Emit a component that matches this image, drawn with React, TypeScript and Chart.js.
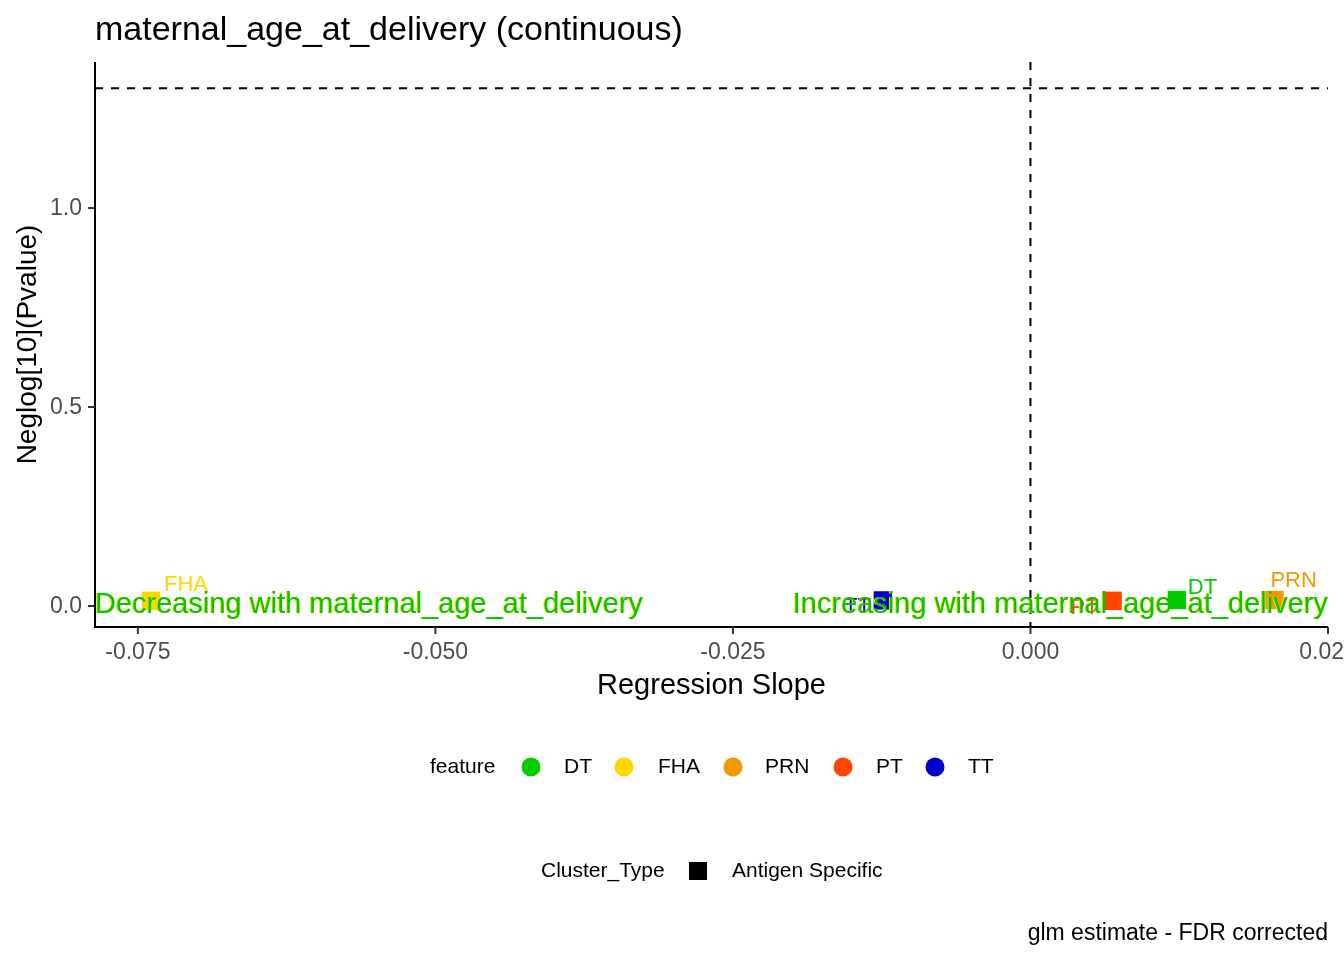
import { useEffect, useRef } from "react"
import { Chart, registerables } from "chart.js"

Chart.register(...registerables)

// data
const features = ["DT", "FHA", "PRN", "PT", "TT"]
const featureColors = ["#00CD00", "#FFD700", "#EE9A00", "#FF4500", "#0000CD"]
const slopes = [0.0123, -0.0739, 0.0205, 0.0069, -0.0124]
const negLogP = [0.015, 0.013, 0.015, 0.013, 0.014]

const xTicks = [-0.075, -0.05, -0.025, 0, 0.025]
const xTickLabels = ["-0.075", "-0.050", "-0.025", "0.000", "0.025"]
const yTicks = [0, 0.5, 1.0]
const yTickLabels = ["0.0", "0.5", "1.0"]

const pThreshold = -Math.log10(0.05)
const clusterTypes = ["Antigen Specific"]

const FONT = "'Liberation Sans', Arial, sans-serif"

// label offsets (px) from each point, like the repelled labels
const labelOffsets: Record<string, [number, number, CanvasTextAlign]> = {
  DT: [11, -12, "left"],
  FHA: [13, -16, "left"],
  PRN: [-4, -19, "left"],
  PT: [-14, 7, "right"],
  TT: [-12, 7, "right"],
}

export default function App() {
  const chartRef = useRef<HTMLCanvasElement>(null)
  const chartInstance = useRef<Chart | null>(null)

  useEffect(() => {
    document.body.style.margin = "0"
    if (!chartRef.current) return
    if (chartInstance.current) chartInstance.current.destroy()

    const decorations = {
      id: "decorations",
      beforeDatasetsDraw(chart: Chart) {
        const { ctx, chartArea } = chart
        const xs = chart.scales.x
        const ys = chart.scales.y
        ctx.save()
        ctx.strokeStyle = "#000"
        ctx.lineWidth = 2
        ctx.setLineDash([8, 8])
        const hy = ys.getPixelForValue(pThreshold)
        ctx.beginPath()
        ctx.moveTo(chartArea.left, hy)
        ctx.lineTo(chartArea.right, hy)
        ctx.stroke()
        const vx = xs.getPixelForValue(0)
        ctx.beginPath()
        ctx.moveTo(vx, chartArea.top)
        ctx.lineTo(vx, chartArea.bottom)
        ctx.stroke()
        ctx.restore()
      },
      afterDatasetsDraw(chart: Chart) {
        const { ctx, chartArea } = chart
        const xs = chart.scales.x
        const ys = chart.scales.y
        ctx.save()

        // point labels
        ctx.font = `22px ${FONT}`
        ctx.textBaseline = "middle"
        features.forEach((f, i) => {
          const px = xs.getPixelForValue(slopes[i])
          const py = ys.getPixelForValue(negLogP[i])
          const [dx, dy, align] = labelOffsets[f]
          ctx.fillStyle = featureColors[i]
          ctx.textAlign = align
          ctx.fillText(f, px + dx, py + dy)
        })

        // direction annotations
        const ay = ys.getPixelForValue(0) - 1
        ctx.font = `29px ${FONT}`
        const drawAnno = (text: string, x: number, align: CanvasTextAlign) => {
          ctx.textAlign = align
          ctx.fillStyle = "#FFD700"
          ctx.fillText(text, x - 1, ay)
          ctx.fillStyle = "#00C800"
          ctx.fillText(text, x, ay)
        }
        drawAnno("Decreasing with maternal_age_at_delivery", chartArea.left, "left")
        drawAnno("Increasing with maternal_age_at_delivery", chartArea.right, "right")

        // axes
        ctx.strokeStyle = "#000"
        ctx.lineWidth = 2
        ctx.beginPath()
        ctx.moveTo(chartArea.left, chartArea.top)
        ctx.lineTo(chartArea.left, chartArea.bottom)
        ctx.lineTo(chartArea.right, chartArea.bottom)
        ctx.stroke()

        ctx.strokeStyle = "#333"
        ctx.fillStyle = "#4D4D4D"
        ctx.font = `23px ${FONT}`
        ctx.textAlign = "center"
        ctx.textBaseline = "middle"
        xTicks.forEach((t, i) => {
          const x = xs.getPixelForValue(t)
          ctx.beginPath()
          ctx.moveTo(x, chartArea.bottom)
          ctx.lineTo(x, chartArea.bottom + 7)
          ctx.stroke()
          ctx.fillText(xTickLabels[i], x, chartArea.bottom + 26)
        })
        ctx.textAlign = "right"
        yTicks.forEach((t, i) => {
          const y = ys.getPixelForValue(t)
          ctx.beginPath()
          ctx.moveTo(chartArea.left - 7, y)
          ctx.lineTo(chartArea.left, y)
          ctx.stroke()
          ctx.fillText(yTickLabels[i], chartArea.left - 13, y + 1)
        })

        // axis titles
        ctx.fillStyle = "#000"
        ctx.font = `29px ${FONT}`
        ctx.textAlign = "center"
        ctx.fillText("Regression Slope", (chartArea.left + chartArea.right) / 2, 686)
        ctx.save()
        ctx.translate(28, (chartArea.top + chartArea.bottom) / 2)
        ctx.rotate(-Math.PI / 2)
        ctx.font = `28px ${FONT}`
        ctx.fillText("Neglog[10](Pvalue)", 0, 0)
        ctx.restore()

        // title
        ctx.font = `34px ${FONT}`
        ctx.textAlign = "left"
        ctx.fillText("maternal_age_at_delivery (continuous)", chartArea.left, 31)

        // legend: feature
        ctx.font = `21px ${FONT}`
        const ly = 767
        ctx.fillText("feature", 430, ly)
        const circleX = [531, 624, 733, 843, 935]
        const textX = [564, 658, 765, 876, 968]
        features.forEach((f, i) => {
          ctx.fillStyle = featureColors[i]
          ctx.beginPath()
          ctx.arc(circleX[i], ly, 9.5, 0, Math.PI * 2)
          ctx.fill()
          ctx.fillStyle = "#000"
          ctx.fillText(f, textX[i], ly)
        })

        // legend: cluster type
        const cy = 871
        ctx.fillText("Cluster_Type", 541, cy)
        ctx.fillRect(689, cy - 9, 18, 18)
        ctx.fillText(clusterTypes[0], 732, cy)

        // caption
        ctx.font = `23px ${FONT}`
        ctx.textAlign = "right"
        ctx.fillText("glm estimate - FDR corrected", chartArea.right, 934)

        ctx.restore()
      },
    }

    chartInstance.current = new Chart(chartRef.current, {
      type: "scatter",
      data: {
        datasets: [
          {
            label: "features",
            data: features.map((_, i) => ({ x: slopes[i], y: negLogP[i] })),
            backgroundColor: featureColors,
            borderWidth: 0,
            pointStyle: "rect",
            pointRadius: 13,
          },
        ],
      },
      options: {
        responsive: false,
        animation: false,
        devicePixelRatio: 1,
        layout: { padding: { left: 95, right: 16, top: 62, bottom: 333 } },
        scales: {
          x: { type: "linear", display: false, min: -0.0786, max: 0.025 },
          y: { type: "linear", display: false, min: -0.0528, max: 1.367 },
        },
        plugins: {
          legend: { display: false },
          tooltip: { enabled: false },
        },
      },
      plugins: [decorations],
    })

    return () => {
      if (chartInstance.current) {
        chartInstance.current.destroy()
        chartInstance.current = null
      }
    }
  }, [])

  return (
    <div style={{ width: 1344, height: 960, background: "#fff" }}>
      <canvas ref={chartRef} width={1344} height={960}></canvas>
    </div>
  )
}
